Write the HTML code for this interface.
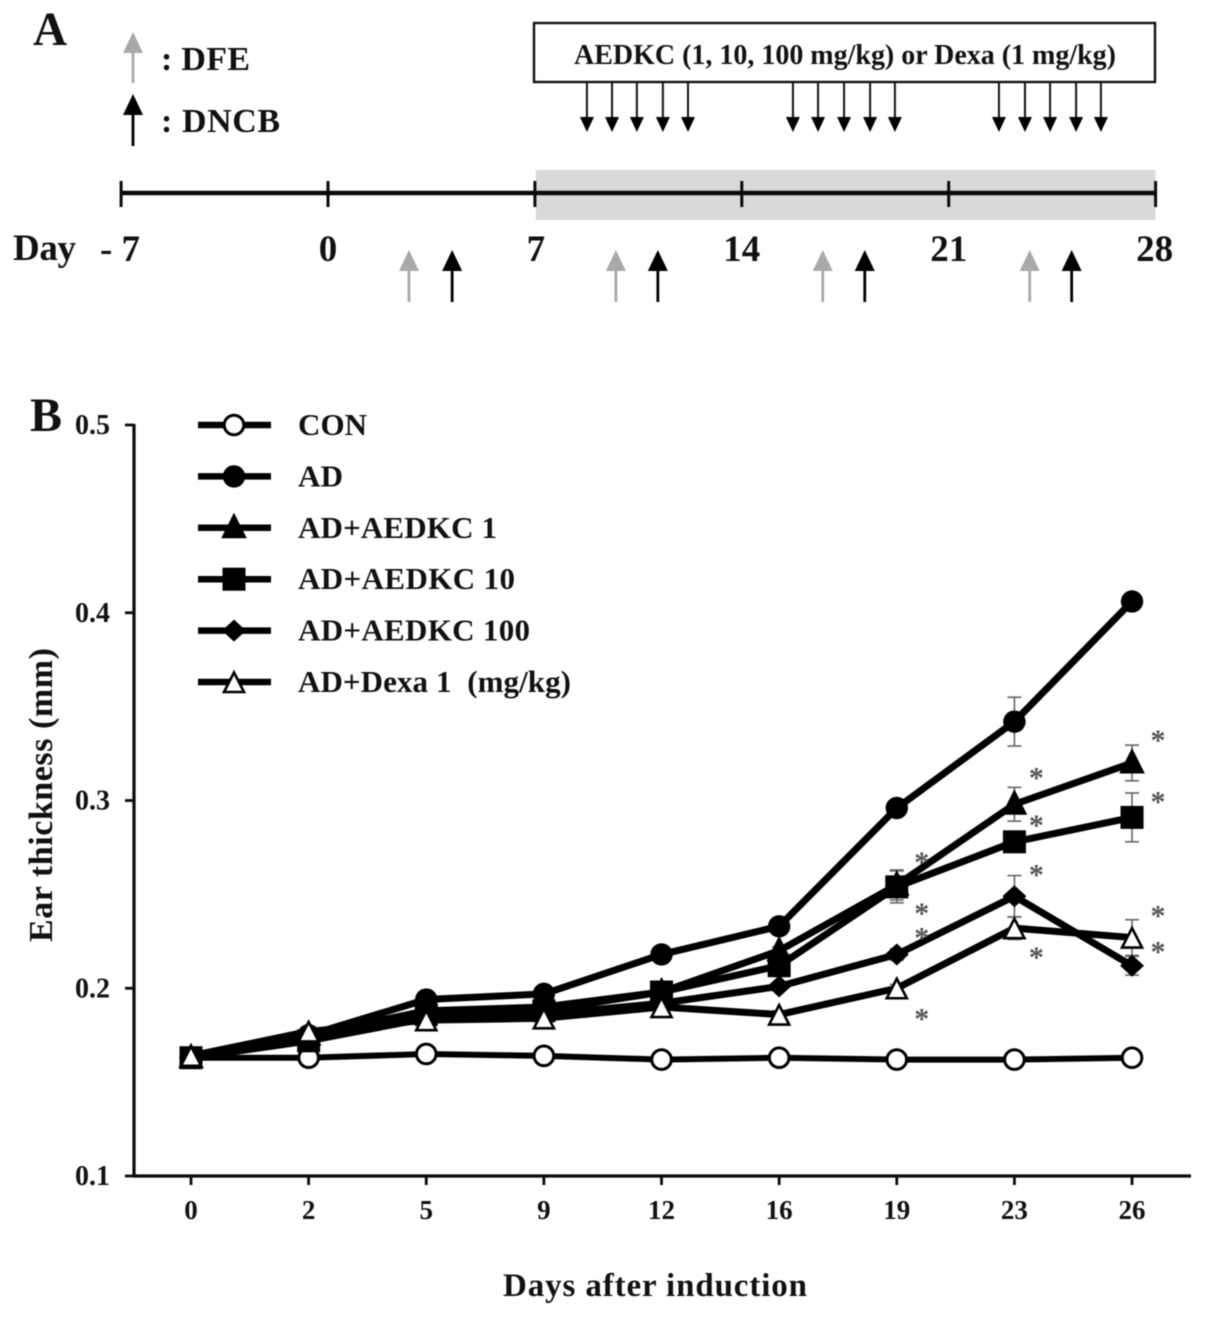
<!DOCTYPE html>
<html lang="en">
<head>
<meta charset="utf-8">
<title>Ear thickness chart</title>
<style>
html,body{margin:0;padding:0;background:#fff;}
svg{display:block;filter:blur(0.6px);}
text{font-family:"Liberation Serif",serif;font-weight:bold;fill:#111;}
</style>
</head>
<body>
<svg id="figure" width="1205" height="1317" viewBox="0 0 1205 1317" xmlns="http://www.w3.org/2000/svg">
  <rect x="0" y="0" width="1205" height="1317" fill="#fff"/>
  <g id="panel-a"></g>
  <g id="panel-b"></g>
</svg>
<script>
// ---- Panel A data ----
const timelineDays = [-7, 0, 7, 14, 21, 28];
const timelineLabels = ['- 7', '0', '7', '14', '21', '28'];
const treatmentStart = 7;
const treatmentEnd = 28;
const dfeDays = [2.74, 9.74, 16.74, 23.74];
const dncbDays = [4.2, 11.16, 18.16, 25.16];
const dosingDays = [8.76, 9.61, 10.45, 11.33, 12.18, 15.73, 16.58, 17.46, 18.34, 19.18, 22.7, 23.58, 24.43, 25.31, 26.15];

// ---- Panel B data ----
const days = ['0', '2', '5', '9', '12', '16', '19', '23', '26'];
const yTicks = [0.1, 0.2, 0.3, 0.4, 0.5];
const yTickLabels = ['0.1', '0.2', '0.3', '0.4', '0.5'];
const conValues = [0.163, 0.163, 0.165, 0.164, 0.162, 0.163, 0.162, 0.162, 0.163];
const adValues = [0.163, 0.175, 0.194, 0.197, 0.218, 0.233, 0.296, 0.342, 0.406];
const aedkc1Values = [0.163, 0.175, 0.188, 0.190, 0.198, 0.220, 0.255, 0.298, 0.320];
const aedkc10Values = [0.163, 0.172, 0.186, 0.188, 0.198, 0.212, 0.254, 0.278, 0.291];
const aedkc100Values = [0.163, 0.172, 0.184, 0.186, 0.192, 0.201, 0.218, 0.249, 0.212];
const dexaValues = [0.164, 0.177, 0.183, 0.184, 0.190, 0.186, 0.200, 0.232, 0.227];
const conErrors = [0.001, 0.001, 0.001, 0.001, 0.001, 0.001, 0.001, 0.001, 0.001];
const adErrors = [0.001, 0.002, 0.002, 0.002, 0.002, 0.002, 0.004, 0.013, 0.002];
const aedkc1Errors = [0.001, 0.002, 0.002, 0.002, 0.002, 0.002, 0.008, 0.009, 0.0095];
const aedkc10Errors = [0.001, 0.002, 0.002, 0.002, 0.002, 0.003, 0.0085, 0.005, 0.013];
const aedkc100Errors = [0.001, 0.002, 0.002, 0.002, 0.002, 0.002, 0.003, 0.011, 0.005];
const dexaErrors = [0.001, 0.002, 0.002, 0.002, 0.002, 0.002, 0.002, 0.006, 0.0095];
const seriesNames = ['CON', 'AD', 'AD+AEDKC 1', 'AD+AEDKC 10', 'AD+AEDKC 100', 'AD+Dexa 1  (mg/kg)'];

const NS = 'http://www.w3.org/2000/svg';
function make(parent, tag, attrs, content) {
  const el = document.createElementNS(NS, tag);
  for (const k in attrs) el.setAttribute(k, attrs[k]);
  if (content !== undefined) {
    el.textContent = content;
    el.setAttribute('xml:space', 'preserve');
    el.style.whiteSpace = 'pre';
  }
  parent.appendChild(el);
  return el;
}

// ---------- Panel A ----------
(function drawPanelA() {
  const g = document.getElementById('panel-a');
  const tx = d => 328 + (d * 206.9 / 7);
  const axisY = 193;

  const letter = make(g, 'text', {x: 33, y: 45, 'font-size': 48, textLength: 34, lengthAdjust: 'spacingAndGlyphs'}, 'A');
  
  

  function upArrow(x, top, bottom, color, name) {
    const a = make(g, 'g', {});
    
    
    make(a, 'line', {x1: x, y1: top + 14, x2: x, y2: bottom, stroke: color, 'stroke-width': 2.8});
    make(a, 'polygon', {points: `${x},${top} ${x - 10},${top + 21} ${x + 10},${top + 21}`, fill: color});
  }

  upArrow(133, 32, 83, '#a9a9a9', 'dfe-legend-arrow');
  upArrow(133, 94, 146, '#000', 'dncb-legend-arrow');
  const dfe = make(g, 'text', {x: 161, y: 70, 'font-size': 34, textLength: 89}, ': DFE');
  
  
  const dncb = make(g, 'text', {x: 161, y: 132, 'font-size': 34, textLength: 119}, ': DNCB');
  
  

  const box = make(g, 'rect', {x: 534, y: 23, width: 621, height: 59, fill: '#fff', stroke: '#111', 'stroke-width': 2.4});
  
  
  const boxText = make(g, 'text', {x: 574, y: 64, 'font-size': 28, textLength: 542}, 'AEDKC (1, 10, 100 mg/kg) or Dexa (1 mg/kg)');
  
  

  dosingDays.forEach(d => {
    const x = tx(d);
    const a = make(g, 'g', {});
    
    
    make(a, 'line', {x1: x, y1: 82, x2: x, y2: 122, stroke: '#111', 'stroke-width': 2});
    make(a, 'polygon', {points: `${x},${132} ${x - 7},${117} ${x + 7},${117}`, fill: '#000'});
  });

  const band = make(g, 'rect', {x: tx(treatmentStart) + 1, y: 170, width: tx(treatmentEnd) - tx(treatmentStart) - 1, height: 50, fill: '#d9d9d9'});
  
  

  const line = make(g, 'line', {x1: tx(-7), y1: axisY, x2: tx(28), y2: axisY, stroke: '#0a0a0a', 'stroke-width': 4.4});
  
  

  timelineDays.forEach((d, i) => {
    const x = tx(d);
    const t = make(g, 'line', {x1: x, y1: 181, x2: x, y2: 207, stroke: '#0a0a0a', 'stroke-width': 3});
    
    
    const l = make(g, 'text', {x: i === 0 ? 120 : x + (i === 5 ? -1 : i === 2 ? 1 : 0), y: 261, 'font-size': 37, 'text-anchor': 'middle'}, timelineLabels[i]);
    
    
  });
  const dayLabel = make(g, 'text', {x: 13, y: 260, 'font-size': 37, textLength: 63}, 'Day');
  
  

  dfeDays.forEach(d => upArrow(tx(d), 250, 302, '#a9a9a9', 'dfe-arrow'));
  dncbDays.forEach(d => upArrow(tx(d), 250, 302, '#000', 'dncb-arrow'));
})();

// ---------- Panel B ----------
(function drawPanelB() {
  const g = document.getElementById('panel-b');
  const x0 = 191, xStep = 117.63;
  const xAt = i => x0 + i * xStep;
  const yAt = v => 1176 - (v - 0.1) * 1877.5;
  const spineX = 134;

  const letter = make(g, 'text', {x: 30, y: 431, 'font-size': 48, textLength: 32, lengthAdjust: 'spacingAndGlyphs'}, 'B');
  
  

  // axes
  const yAxis = make(g, 'line', {x1: spineX, y1: yAt(0.5) - 1, x2: spineX, y2: 1177.5, stroke: '#0a0a0a', 'stroke-width': 3.2});
  
  
  const xAxis = make(g, 'line', {x1: spineX, y1: 1176, x2: 1191, y2: 1176, stroke: '#0a0a0a', 'stroke-width': 3.2});
  
  

  yTicks.forEach((v, i) => {
    const t = make(g, 'line', {x1: 125, y1: yAt(v), x2: spineX, y2: yAt(v), stroke: '#0a0a0a', 'stroke-width': 2.8});
    
    
    const l = make(g, 'text', {x: 75, y: yAt(v) + 9, 'font-size': 28, textLength: 35}, yTickLabels[i]);
    
    
  });
  days.forEach((d, i) => {
    const t = make(g, 'line', {x1: xAt(i), y1: 1176, x2: xAt(i), y2: 1185, stroke: '#0a0a0a', 'stroke-width': 2.8});
    
    
    const l = make(g, 'text', {x: xAt(i), y: 1219, 'font-size': 27, 'text-anchor': 'middle'}, d);
    
    
  });

  const xt = make(g, 'text', {x: 503, y: 1296, 'font-size': 33, textLength: 304}, 'Days after induction');
  
  
  const yt = make(g, 'text', {x: 0, y: 0, 'font-size': 34, textLength: 294, transform: 'translate(52,942) rotate(-90)'}, 'Ear thickness (mm)');
  
  

  function marker(parent, shape, x, y) {
    if (shape === 'open-circle') {
      make(parent, 'circle', {cx: x, cy: y, r: 9.8, fill: '#fff', stroke: '#000', 'stroke-width': 3});
    } else if (shape === 'circle') {
      make(parent, 'circle', {cx: x, cy: y, r: 11.2, fill: '#000'});
    } else if (shape === 'triangle') {
      make(parent, 'polygon', {points: `${x},${y - 14} ${x + 12},${y + 10} ${x - 12},${y + 10}`, fill: '#000', stroke: '#000', 'stroke-width': 1});
    } else if (shape === 'square') {
      make(parent, 'rect', {x: x - 11.5, y: y - 11.5, width: 23, height: 23, fill: '#000'});
    } else if (shape === 'diamond') {
      make(parent, 'polygon', {points: `${x},${y - 11} ${x + 12},${y} ${x},${y + 11} ${x - 12},${y}`, fill: '#000'});
    } else if (shape === 'open-triangle') {
      make(parent, 'polygon', {points: `${x},${y - 9.5} ${x + 10},${y + 10} ${x - 10},${y + 10}`, fill: '#fff', stroke: '#000', 'stroke-width': 2.6});
    }
  }

  const shapes = ['open-circle', 'circle', 'triangle', 'square', 'diamond', 'open-triangle'];
  const keys = ['con', 'ad', 'aedkc-1', 'aedkc-10', 'aedkc-100', 'dexa'];
  const allValues = [conValues, adValues, aedkc1Values, aedkc10Values, aedkc100Values, dexaValues];
  const allErrors = [conErrors, adErrors, aedkc1Errors, aedkc10Errors, aedkc100Errors, dexaErrors];

  // error bars underneath
  allValues.forEach((vals, s) => {
    const eg = make(g, 'g', {});
    
    
    vals.forEach((v, i) => {
      const e = allErrors[s][i];
      const x = xAt(i);
      const top = yAt(v + e), bot = yAt(v - e);
      make(eg, 'line', {x1: x, y1: top, x2: x, y2: bot, stroke: '#666', 'stroke-width': 1.6});
      make(eg, 'line', {x1: x - 7, y1: top, x2: x + 7, y2: top, stroke: '#666', 'stroke-width': 1.6});
      make(eg, 'line', {x1: x - 7, y1: bot, x2: x + 7, y2: bot, stroke: '#666', 'stroke-width': 1.6});
    });
  });

  // lines
  allValues.forEach((vals, s) => {
    const pts = vals.map((v, i) => xAt(i) + ',' + yAt(v)).join(' ');
    const p = make(g, 'polyline', {points: pts, fill: 'none', stroke: '#000', 'stroke-width': s === 0 ? 6 : 7, 'stroke-linejoin': 'round'});
    
    
  });

  // markers
  [0, 1, 2, 3, 4, 5].forEach(s => {
    const mg = make(g, 'g', {});
    
    
    allValues[s].forEach((v, i) => marker(mg, shapes[s], xAt(i), yAt(v)));
  });

  // significance asterisks: [series, day index, vertical nudge, horizontal nudge]
  const stars = [
    [2, 6, -28, 25], [3, 6, 21, 25], [4, 6, -22, 25], [5, 6, 25, 25],
    [2, 7, -32, 22], [3, 7, -22, 22], [4, 7, -27, 22], [5, 7, 24, 22],
    [2, 8, -28, 26], [3, 8, -21, 26], [5, 8, -27, 26], [4, 8, -19, 26]
  ];
  stars.forEach(st => {
    const el = make(g, 'text', {
      x: xAt(st[1]) + st[3],
      y: yAt(allValues[st[0]][st[1]]) + st[2] + 15,
      'font-size': 30,
      'text-anchor': 'middle',
      style: 'fill:#555'
    }, '*');
    
    
  });

  // legend
  const legendWidths = [69, 45, 199, 217, 232, 273];
  seriesNames.forEach((name, s) => {
    const y = 425 + s * 51.4;
    const lg = make(g, 'g', {});
    
    
    make(lg, 'line', {x1: 198, y1: y, x2: 271, y2: y, stroke: '#000', 'stroke-width': 6.5});
    marker(lg, shapes[s], 234, y);
    make(lg, 'text', {x: 298, y: y + 10, 'font-size': 31, textLength: legendWidths[s]}, name);
  });
})();
</script>
</body>
</html>
